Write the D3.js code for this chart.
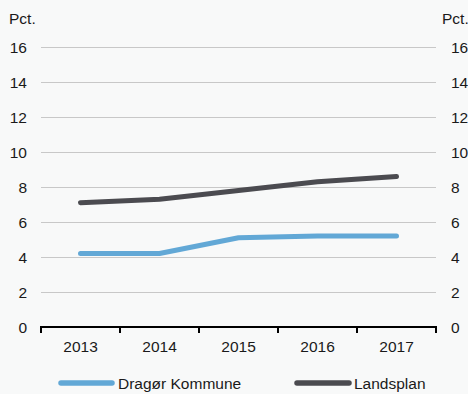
<!DOCTYPE html>
<html><head><meta charset="utf-8">
<script src="https://cdn.jsdelivr.net/npm/d3@7"></script>
<style>body{margin:0;background:#f8f9f9;}svg{display:block;font-family:"Liberation Sans",Arial,sans-serif;}</style>
</head><body>
<script>
const years = ["2013","2014","2015","2016","2017"];
const dragoer = [4.2, 4.2, 5.1, 5.2, 5.2];
const landsplan = [7.1, 7.3, 7.8, 8.3, 8.6];
const yTicks = [0,2,4,6,8,10,12,14,16];
const seriesNames = ["Dragør Kommune","Landsplan"];
const colors = ["#62a8d6","#4b4b50"];

const W=468,H=394;
const svg=d3.select("body").append("svg").attr("width",W).attr("height",H);
svg.append("rect").attr("width",W).attr("height",H).attr("fill","#f8f9f9");
const x=d3.scaleBand().domain(years).range([41,436]);
const y=d3.scaleLinear().domain([0,16]).range([327,47]);
const txt="#1a1a1a";
const fs=15.5;

// grid
svg.append("g").selectAll("line").data(yTicks.filter(d=>d>0)).join("line")
 .attr("x1",41).attr("x2",436).attr("y1",d=>y(d)).attr("y2",d=>y(d))
 .attr("stroke","#c8c8c8").attr("stroke-width",1).attr("shape-rendering","crispEdges");

// y labels
svg.append("g").selectAll("text").data(yTicks).join("text")
 .attr("x",27).attr("y",d=>y(d)+5.5).attr("text-anchor","end").attr("font-size",fs).attr("fill",txt).text(d=>d);
svg.append("g").selectAll("text").data(yTicks).join("text")
 .attr("x",451).attr("y",d=>y(d)+5.5).attr("text-anchor","start").attr("font-size",fs).attr("fill",txt).text(d=>d);
svg.append("text").attr("x",9).attr("y",24).attr("font-size",fs).attr("fill",txt).text("Pct.");
svg.append("text").attr("x",442).attr("y",24).attr("font-size",fs).attr("fill",txt).text("Pct.");

// x axis
const xAxis=d3.axisBottom(x).tickSize(0).tickPadding(0);
const ax=svg.append("g").attr("transform","translate(0,327)").call(xAxis);
ax.select(".domain").remove();
ax.selectAll("text").attr("font-size",fs).attr("fill",txt).attr("dy",0).attr("y",25);
svg.append("line").attr("x1",40).attr("x2",437).attr("y1",327).attr("y2",327).attr("stroke","#000").attr("stroke-width",2);
const bounds=years.map(d=>x(d)).concat([x.range()[1]]);
svg.append("g").selectAll("line").data(bounds).join("line")
 .attr("x1",d=>d).attr("x2",d=>d).attr("y1",327).attr("y2",333).attr("stroke","#000").attr("stroke-width",2);

// lines
const line=d3.line().x((d,i)=>x(years[i])+x.bandwidth()/2).y(d=>y(d));
[dragoer,landsplan].forEach((s,k)=>{
 svg.append("path").attr("d",line(s)).attr("fill","none").attr("stroke",colors[k])
  .attr("stroke-width",5).attr("stroke-linecap","round").attr("stroke-linejoin","round");
});

// legend
const leg=[{x1:61,x2:112,tx:118},{x1:297,x2:349,tx:354}];
leg.forEach((l,k)=>{
 svg.append("line").attr("x1",l.x1).attr("x2",l.x2).attr("y1",383).attr("y2",383)
  .attr("stroke",colors[k]).attr("stroke-width",5.5).attr("stroke-linecap","round");
 svg.append("text").attr("x",l.tx).attr("y",389).attr("font-size",fs).attr("fill",txt).text(seriesNames[k]);
});
</script>
</body></html>
